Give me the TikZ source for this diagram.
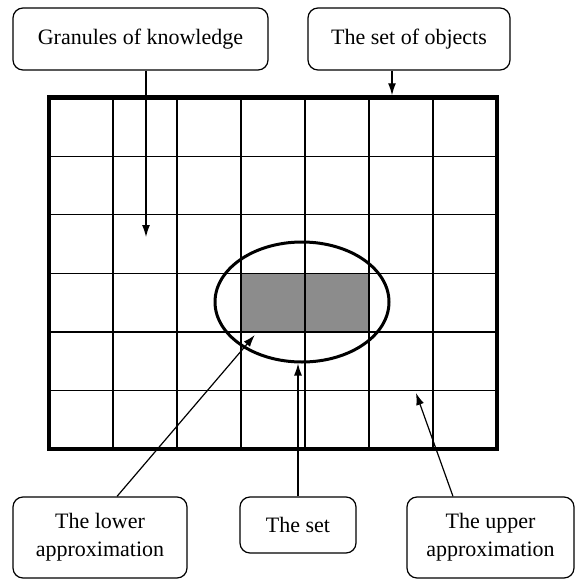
\documentclass[tikz,border=0pt]{standalone}
\usepackage{fontspec}
\setmainfont{Liberation Serif}
\usetikzlibrary{positioning,arrows.meta,shapes.geometric}
\definecolor{lowFill}{HTML}{8c8c8c}

\begin{document}
\begin{tikzpicture}[
  x=1pt, y=-1pt,
  font=\fontsize{22}{28}\selectfont,
  infobox/.style ={draw, rounded corners=10pt, line width=1.2pt, align=center, inner sep=0pt},
  objframe/.style={draw, line width=4.5pt, inner sep=0pt},
  cell/.style    ={line width=1.2pt},
  ring/.style    ={draw, ellipse, line width=3pt, inner sep=0pt},
  ptr/.style     ={-{Latex[length=12pt,width=8pt]}, line width=1.2pt},
]
\useasboundingbox (0,0) rectangle (575,581);

% ==================== Universe: grid of granules ====================
\node[fill=lowFill, minimum width=128pt, minimum height=58.6pt, inner sep=0pt] (lower) at (305,302.5) {};
\foreach \i in {1,...,6}
  \draw[cell] ({49+\i*64},97.5) -- ({49+\i*64},449);
\foreach \j in {1,...,5}
  \draw[cell] (49,{97.5+\j*58.6}) -- (497,{97.5+\j*58.6});
\node[objframe, minimum width=448pt, minimum height=351.5pt] (objects) at (273,273.25) {};

% the set itself
\node[ring, minimum width=174pt, minimum height=120pt] (theset) at (302,302) {};

% ==================== Captions ====================
\node[infobox, minimum width=255pt, minimum height=62pt] (granules) at (140.5,39)  {Granules of knowledge};
\node[infobox, minimum width=202pt, minimum height=62pt] (setobj)   at (409,39)    {The set of objects};
\node[infobox, minimum width=174pt, minimum height=81pt] (lowbox)   at (100,537.5) {The lower\\approximation};
\node[infobox, minimum width=116pt, minimum height=56pt] (setbox)   at (298,525)   {The set};
\node[infobox, minimum width=167pt, minimum height=81pt] (upbox)    at (490.5,537.5) {The upper\\approximation};

% ==================== Arrows ====================
\coordinate (granule) at (146,237);
\coordinate (boundary) at (416,393);

\draw[ptr] ([xshift=5.5pt]granules.south) -- (granule);
\draw[ptr] ([xshift=-17pt]setobj.south) -- ([xshift=-17pt]setobj.south |- objects.north);
\draw[ptr] ([xshift=17pt]lowbox.north) -- ([xshift=14pt,yshift=-3pt]lower.south west);
\draw[ptr] (setbox.north) -- (setbox.north |- theset.south);
\draw[ptr] ([xshift=-37.5pt]upbox.north) -- (boundary);

\end{tikzpicture}
\end{document}
